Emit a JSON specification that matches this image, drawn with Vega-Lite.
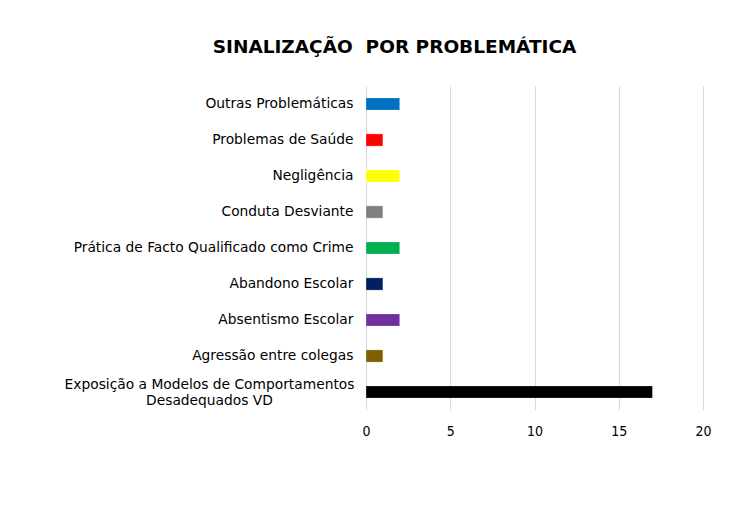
{
  "$schema": "https://vega.github.io/schema/vega-lite/v6.json",
  "autosize": {"type": "none"},
  "width": 337,
  "height": 324,
  "padding": {"left": 366, "top": 86, "right": 30, "bottom": 102},
  "background": "white",
  "title": {
    "text": "SINALIZAÇÃO \u00a0POR PROBLEMÁTICA",
    "font": "DejaVu Sans",
    "fontWeight": "bold",
    "fontSize": 18.5,
    "color": "#000000",
    "anchor": "middle",
    "dx": -140,
    "offset": 15,
    "baseline": "alphabetic"
  },
  "data": {
    "values": [
      {"problematica": "Outras Problemáticas", "n": 2, "cor": "#0070C0"},
      {"problematica": "Problemas de Saúde", "n": 1, "cor": "#FF0000"},
      {"problematica": "Negligência", "n": 2, "cor": "#FFFF00"},
      {"problematica": "Conduta Desviante", "n": 1, "cor": "#808080"},
      {"problematica": "Prática de Facto Qualificado como Crime", "n": 2, "cor": "#00B050"},
      {"problematica": "Abandono Escolar", "n": 1, "cor": "#002060"},
      {"problematica": "Absentismo Escolar", "n": 2, "cor": "#7030A0"},
      {"problematica": "Agressão entre colegas", "n": 1, "cor": "#7F6000"},
      {"problematica": "Exposição a Modelos de Comportamentos Desadequados VD", "n": 17, "cor": "#000000"}
    ]
  },
  "mark": {"type": "bar", "stroke": "#ffffff", "strokeOpacity": 0.5, "strokeWidth": 0.5},
  "encoding": {
    "y": {
      "field": "problematica",
      "type": "nominal",
      "sort": null,
      "scale": {"paddingInner": 0.66, "paddingOuter": 0.33},
      "axis": {
        "title": null,
        "domain": false,
        "ticks": false,
        "labelFont": "DejaVu Sans",
        "labelFontSize": 13.8,
        "labelColor": "#000000",
        "labelPadding": {"condition": {"test": "datum.value == 'Exposição a Modelos de Comportamentos Desadequados VD'", "value": 157}, "value": 13},
        "labelOffset": {"condition": {"test": "datum.value == 'Exposição a Modelos de Comportamentos Desadequados VD'", "value": -7}, "value": 0},
        "labelLimit": 400,
        "labelLineHeight": 16,
        "labelAlign": {"condition": {"test": "datum.value == 'Exposição a Modelos de Comportamentos Desadequados VD'", "value": "center"}, "value": "right"},
        "labelExpr": "datum.value == 'Exposição a Modelos de Comportamentos Desadequados VD' ? ['Exposição a Modelos de Comportamentos', 'Desadequados VD'] : datum.value"
      }
    },
    "x": {
      "field": "n",
      "type": "quantitative",
      "scale": {"domain": [0, 20]},
      "axis": {
        "title": null,
        "values": [0, 5, 10, 15, 20],
        "domain": false,
        "ticks": false,
        "grid": true,
        "gridColor": "#d9d9d9",
        "gridWidth": 1,
        "labelFlush": false,
        "labelFont": "DejaVu Sans Condensed",
        "labelFontSize": 14,
        "labelColor": "#000000",
        "labelPadding": 14
      }
    },
    "color": {"field": "cor", "type": "nominal", "scale": null, "legend": null}
  },
  "config": {"view": {"stroke": null}}
}
